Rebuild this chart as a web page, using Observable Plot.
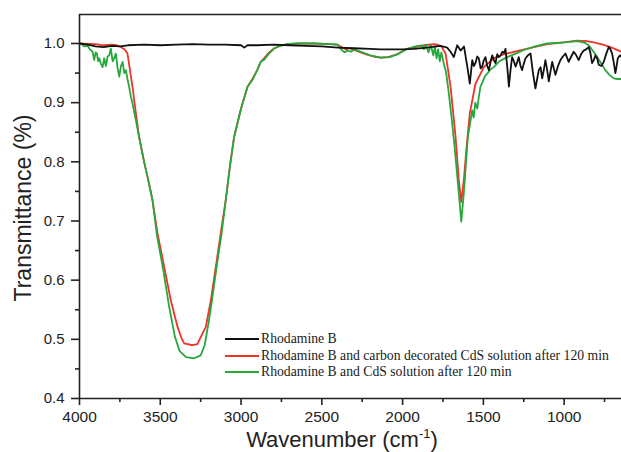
<!DOCTYPE html>
<html>
<head>
<meta charset="utf-8">
<script src="https://cdn.jsdelivr.net/npm/d3@7"></script>
<script src="https://cdn.jsdelivr.net/npm/@observablehq/plot@0.6"></script>
<style>
  html, body { margin: 0; padding: 0; background: #fff; }
  #wrap { position: relative; width: 621px; height: 452px; overflow: hidden; }
  .legend { position: absolute; left: 225px; top: 331px; font-family: "Liberation Serif", "Times New Roman", serif; font-size: 13.7px; color: #1a1a1a; }
  .legend .row { display: flex; align-items: center; height: 16.5px; white-space: nowrap; }
  .legend .sw { width: 34px; height: 2px; margin-right: 2px; }
</style>
</head>
<body>
<div id="wrap"></div>
<script>
// ---- data ----
const seriesNames = [
  "Rhodamine B",
  "Rhodamine B and carbon decorated CdS solution after 120 min",
  "Rhodamine B and CdS solution after 120 min"
];
const seriesColors = ["#111111", "#ec3526", "#27a83d"];

const blackW = [4000, 3950, 3900, 3850, 3800, 3750, 3700, 3600, 3500, 3400, 3300, 3200, 3100, 3000, 2980, 2960, 2900, 2800, 2700, 2600, 2500, 2400, 2300, 2200, 2136, 2000, 1930, 1850, 1765, 1724, 1703, 1683, 1662, 1641, 1620, 1596, 1584, 1569, 1559, 1549, 1538, 1528, 1517, 1507, 1497, 1487, 1476, 1466, 1455, 1445, 1435, 1425, 1414, 1404, 1393, 1383, 1373, 1363, 1352, 1342, 1332, 1322, 1311, 1301, 1291, 1281, 1270, 1260, 1250, 1239, 1224, 1208, 1193, 1178, 1167, 1157, 1146, 1136, 1126, 1116, 1105, 1095, 1085, 1074, 1064, 1054, 1038, 1023, 1008, 992, 982, 972, 956, 941, 925, 910, 895, 879, 864, 848, 838, 827, 817, 806, 796, 786, 770, 755, 740, 724, 713, 703, 693, 683, 675, 668, 655, 645];
const blackT = [1.0, 0.998, 0.995, 0.994, 0.996, 0.995, 0.997, 0.998, 0.997, 0.998, 0.999, 0.998, 0.998, 0.997, 0.993, 0.997, 0.997, 0.998, 0.997, 0.996, 0.995, 0.993, 0.992, 0.991, 0.990, 0.990, 0.991, 0.993, 0.996, 0.993, 0.986, 0.977, 0.997, 0.988, 0.995, 0.955, 0.932, 0.972, 0.962, 0.967, 0.978, 0.975, 0.958, 0.961, 0.972, 0.977, 0.962, 0.955, 0.970, 0.980, 0.972, 0.967, 0.982, 0.977, 0.980, 0.986, 0.984, 0.991, 0.960, 0.927, 0.955, 0.977, 0.970, 0.961, 0.968, 0.977, 0.962, 0.955, 0.966, 0.975, 0.980, 0.983, 0.950, 0.924, 0.940, 0.955, 0.960, 0.941, 0.955, 0.972, 0.955, 0.936, 0.952, 0.969, 0.958, 0.947, 0.962, 0.972, 0.978, 0.983, 0.976, 0.969, 0.978, 0.986, 0.980, 0.972, 0.982, 0.988, 0.990, 0.994, 0.985, 0.967, 0.972, 0.980, 0.975, 0.964, 0.962, 0.969, 0.982, 0.994, 0.990, 0.983, 0.968, 0.950, 0.962, 0.975, 0.980, 0.977];

const redW = [4000, 3900, 3850, 3800, 3770, 3744, 3720, 3703, 3672, 3650, 3631, 3600, 3575, 3548, 3517, 3476, 3435, 3393, 3370, 3352, 3301, 3270, 3249, 3218, 3187, 3156, 3126, 3095, 3070, 3043, 3000, 2960, 2930, 2900, 2878, 2858, 2830, 2796, 2760, 2713, 2650, 2550, 2450, 2404, 2370, 2350, 2330, 2310, 2280, 2230, 2180, 2136, 2090, 2040, 1971, 1900, 1868, 1806, 1786, 1760, 1734, 1703, 1672, 1652, 1637, 1621, 1604, 1584, 1549, 1497, 1436, 1380, 1312, 1200, 1105, 1000, 920, 860, 817, 760, 713, 680, 645];
const redT = [1.0, 0.999, 0.997, 0.998, 0.997, 0.994, 0.99, 0.983, 0.927, 0.88, 0.842, 0.80, 0.77, 0.735, 0.679, 0.623, 0.566, 0.521, 0.503, 0.493, 0.490, 0.492, 0.504, 0.521, 0.566, 0.623, 0.679, 0.735, 0.79, 0.842, 0.89, 0.927, 0.94, 0.955, 0.969, 0.975, 0.984, 0.9915, 0.996, 0.999, 1.0, 1.0, 0.999, 0.998, 0.993, 0.99, 0.992, 0.99, 0.987, 0.982, 0.978, 0.976, 0.977, 0.981, 0.991, 0.995, 0.997, 0.999, 0.998, 0.995, 0.983, 0.927, 0.842, 0.769, 0.732, 0.769, 0.825, 0.882, 0.932, 0.960, 0.975, 0.981, 0.986, 0.993, 0.999, 1.002, 1.005, 1.004, 1.002, 0.998, 0.994, 0.99, 0.986];

const greenW = [4000, 3991, 3970, 3950, 3935, 3919, 3909, 3900, 3892, 3885, 3878, 3868, 3857, 3847, 3837, 3826, 3816, 3806, 3795, 3785, 3775, 3765, 3754, 3743, 3733, 3723, 3713, 3703, 3693, 3682, 3672, 3651, 3631, 3600, 3575, 3548, 3520, 3480, 3445, 3410, 3380, 3340, 3290, 3250, 3225, 3200, 3180, 3150, 3120, 3095, 3070, 3043, 3000, 2960, 2930, 2900, 2878, 2858, 2830, 2796, 2760, 2713, 2650, 2550, 2450, 2404, 2380, 2360, 2340, 2320, 2300, 2250, 2200, 2136, 2080, 2030, 1971, 1920, 1880, 1868, 1855, 1840, 1825, 1810, 1800, 1790, 1780, 1770, 1760, 1745, 1730, 1714, 1695, 1678, 1652, 1637, 1621, 1596, 1569, 1560, 1550, 1538, 1528, 1518, 1505, 1490, 1476, 1460, 1436, 1400, 1353, 1300, 1250, 1180, 1105, 1000, 920, 870, 848, 820, 796, 770, 745, 720, 693, 670, 645];
const greenT = [1.0, 1.0, 0.995, 0.996, 0.990, 0.986, 0.972, 0.985, 0.983, 0.970, 0.975, 0.966, 0.960, 0.975, 0.962, 0.978, 0.980, 0.9915, 0.97, 0.975, 0.983, 0.96, 0.944, 0.962, 0.969, 0.950, 0.955, 0.940, 0.927, 0.910, 0.899, 0.870, 0.842, 0.80, 0.77, 0.735, 0.675, 0.615, 0.555, 0.505, 0.480, 0.470, 0.468, 0.473, 0.49, 0.53, 0.566, 0.625, 0.68, 0.735, 0.79, 0.842, 0.89, 0.927, 0.938, 0.955, 0.969, 0.972, 0.982, 0.9915, 0.996, 0.999, 1.0, 1.0, 0.999, 0.998, 0.99, 0.985, 0.988, 0.986, 0.99, 0.985, 0.98, 0.976, 0.977, 0.982, 0.991, 0.995, 0.997, 0.99, 0.998, 0.985, 0.997, 0.98, 0.995, 0.975, 0.99, 0.97, 0.985, 0.966, 0.95, 0.916, 0.87, 0.825, 0.747, 0.699, 0.747, 0.842, 0.887, 0.875, 0.90, 0.89, 0.91, 0.927, 0.935, 0.945, 0.949, 0.955, 0.960, 0.97, 0.977, 0.983, 0.989, 0.995, 1.0, 1.002, 1.004, 1.001, 0.997, 0.987, 0.977, 0.966, 0.955, 0.947, 0.941, 0.940, 0.940];

const xMajorTicks = [4000, 3500, 3000, 2500, 2000, 1500, 1000];
const xMinorTicks = [3750, 3250, 2750, 2250, 1750, 1250, 750];
const yMajorTicks = [0.4, 0.5, 0.6, 0.7, 0.8, 0.9, 1.0];
const yMinorTicks = [0.45, 0.55, 0.65, 0.75, 0.85, 0.95];
const xDomain = [4000, 645];
const yDomain = [0.4, 1.049];
const xLabel = "Wavenumber (cm";
const xLabelSup = "-1";
const yLabel = "Transmittance (%)";

// ---- build ----
const toRows = (ws, ts) => ws.map((w, i) => ({w, t: ts[i]}));
const rows = [toRows(redW, redT), toRows(greenW, greenT), toRows(blackW, blackT)];
const rowColors = [seriesColors[1], seriesColors[2], seriesColors[0]];

const axisStyle = {stroke: "#222", strokeWidth: 1.6};
const svg = Plot.plot({
  width: 621,
  height: 452,
  marginLeft: 79,
  marginRight: 0,
  marginTop: 14,
  marginBottom: 54,
  style: {fontFamily: "'Liberation Sans', Arial, sans-serif", background: "white", color: "#222"},
  x: {domain: xDomain},
  y: {domain: yDomain},
  marks: [
    ...rows.map((r, i) => Plot.line(r, {x: "w", y: "t", stroke: rowColors[i], strokeWidth: 1.8, curve: "linear"})),
    Plot.axisX({ticks: xMajorTicks, tickSize: 7, tickPadding: 5, tickFormat: d => String(d), fontSize: 15.5, strokeWidth: 1.6, label: null}),
    Plot.axisX({ticks: xMinorTicks, tickSize: 4, tickFormat: () => "", strokeWidth: 1.6, label: null}),
    Plot.axisY({ticks: yMajorTicks, tickSize: 8, tickPadding: 7, tickFormat: d => d.toFixed(1), fontSize: 15, strokeWidth: 1.6, label: null}),
    Plot.axisY({ticks: yMinorTicks, tickSize: 4, tickFormat: () => "", strokeWidth: 1.6, label: null}),
    Plot.ruleX([xDomain[0]], axisStyle),
    Plot.ruleY([yDomain[0]], axisStyle),
    Plot.ruleY([yDomain[1]], axisStyle)
  ]
});

const s = d3.select(svg);
s.append("text")
  .attr("transform", "translate(31,208) rotate(-90)")
  .attr("text-anchor", "middle")
  .attr("font-size", 23)
  .attr("fill", "#222")
  .text(yLabel);
const xl = s.append("text")
  .attr("x", 342).attr("y", 447)
  .attr("text-anchor", "middle")
  .attr("font-size", 22)
  .attr("fill", "#222");
xl.append("tspan").text(xLabel);
xl.append("tspan").attr("font-size", 13).attr("dy", -9).text(xLabelSup);
xl.append("tspan").attr("dy", 9).text(")");

const wrap = document.getElementById("wrap");
wrap.appendChild(svg);

const legend = document.createElement("div");
legend.className = "legend";
seriesNames.forEach((name, i) => {
  const row = document.createElement("div");
  row.className = "row";
  const sw = document.createElement("span");
  sw.className = "sw";
  sw.style.background = seriesColors[i];
  const tx = document.createElement("span");
  tx.textContent = name;
  row.appendChild(sw);
  row.appendChild(tx);
  legend.appendChild(row);
});
wrap.appendChild(legend);
</script>
</body>
</html>
